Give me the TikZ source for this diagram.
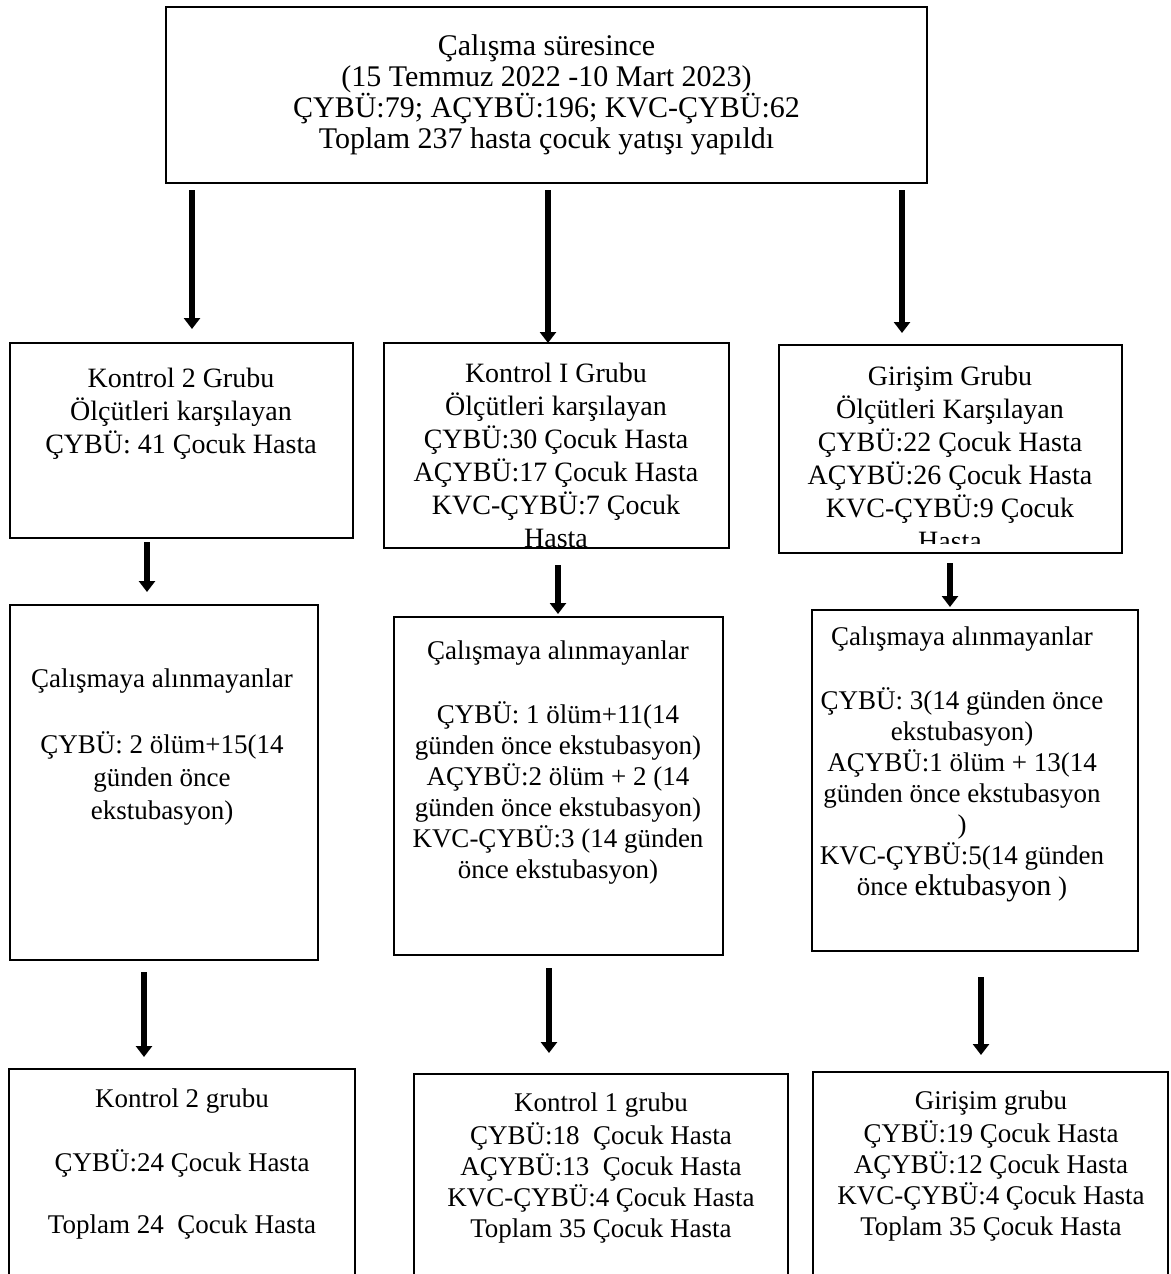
\documentclass[tikz,border=0pt]{standalone}
\usepackage{fontspec}
\setmainfont{Liberation Serif}
\usetikzlibrary{arrows.meta,fit}

\tikzset{
  box/.style={draw, line width=1.2pt, inner sep=0pt},
  txt/.style={align=center, inner sep=0pt, anchor=north},
  mid/.style={font=\fontsize{14}{16.5}\selectfont},
  low/.style={font=\fontsize{13.5}{15.5}\selectfont},
  flow/.style={line width=3pt, -{Triangle[width=8pt,length=5.5pt]}},
}

\begin{document}
\begin{tikzpicture}[x=0.5pt,y=-0.5pt]
\fill[white] (0,0) rectangle (1171,1274);
\useasboundingbox (0,0) rectangle (1171,1274);

% ---- boxes ----
\node[box, fit={(166,7) (927,183)}] (top) {};
\node[box, fit={(10,343) (353,538)}] (k2) {};
\node[box, fit={(384,343) (729,548)}] (k1) {};
\node[box, fit={(779,345) (1122,553)}] (gi) {};
\node[box, fit={(10,605) (318,960)}] (x2) {};
\node[box, fit={(394,617) (723,955)}] (x1) {};
\node[box, fit={(812,610) (1138,951)}] (xg) {};
\node[box, fit={(9,1069) (355,1300)}] (s2) {};
\node[box, fit={(414,1074) (788,1300)}] (s1) {};
\node[box, fit={(813,1072) (1168,1300)}] (sg) {};

% ---- texts ----
\node[align=center, inner sep=0pt, font=\fontsize{15}{15.5}\selectfont] (top-t) at (top.center)
  {Çalışma süresince\\ (15 Temmuz 2022 -10 Mart 2023)\\ ÇYBÜ:79; AÇYBÜ:196; KVC-ÇYBÜ:62\\ Toplam 237 hasta çocuk yatışı yapıldı};

\node[txt, mid] (k2-t) at (181,364)
  {\strut Kontrol 2 Grubu\\ Ölçütleri karşılayan\\ ÇYBÜ: 41 Çocuk Hasta};

\begin{scope}
  \clip (384,343) rectangle (729,546);
  \node[txt, mid] (k1-t) at (556,359)
    {\strut Kontrol I Grubu\\ Ölçütleri karşılayan\\ ÇYBÜ:30 Çocuk Hasta\\ AÇYBÜ:17 Çocuk Hasta\\ KVC-ÇYBÜ:7 Çocuk\\ Hasta};
\end{scope}

\begin{scope}
  \clip (779,345) rectangle (1122,543);
  \node[txt, mid] (gi-t) at (950,362)
    {\strut Girişim Grubu\\ Ölçütleri Karşılayan\\ ÇYBÜ:22 Çocuk Hasta\\ AÇYBÜ:26 Çocuk Hasta\\ KVC-ÇYBÜ:9 Çocuk\\ Hasta};
\end{scope}

\node[txt, font=\fontsize{13.5}{16.5}\selectfont] (x2-t) at (162,664)
  {\strut Çalışmaya alınmayanlar\\[16.5pt] ÇYBÜ: 2 ölüm+15(14\\ günden önce\\ ekstubasyon)};

\node[txt, low] (x1-t) at (558,637)
  {\strut Çalışmaya alınmayanlar\\[15.5pt] ÇYBÜ: 1 ölüm+11(14\\ günden önce ekstubasyon)\\ AÇYBÜ:2 ölüm + 2 (14\\ günden önce ekstubasyon)\\ KVC-ÇYBÜ:3 (14 günden\\ önce ekstubasyon)};

\node[txt, low] (xg-t) at (962,623)
  {\strut Çalışmaya alınmayanlar\\[15.5pt] ÇYBÜ: 3(14 günden önce\\ ekstubasyon)\\ AÇYBÜ:1 ölüm + 13(14\\ günden önce ekstubasyon\\ )\\ KVC-ÇYBÜ:5(14 günden\\ önce {\fontsize{15}{15.5}\selectfont ektubasyon} )};

\node[txt, low] (s2-t) at (182,1085)
  {\strut Kontrol 2 grubu\\[15.5pt] ÇYBÜ:24 Çocuk Hasta\\[15.5pt] Toplam 24\ \ Çocuk Hasta};

\node[txt, low] (s1-t) at (601,1089)
  {\strut Kontrol 1 grubu\\ ÇYBÜ:18\ \ Çocuk Hasta\\ AÇYBÜ:13\ \ Çocuk Hasta\\ KVC-ÇYBÜ:4 Çocuk Hasta\\ Toplam 35 Çocuk Hasta};

\node[txt, low] (sg-t) at (991,1087)
  {\strut Girişim grubu\\ ÇYBÜ:19 Çocuk Hasta\\ AÇYBÜ:12 Çocuk Hasta\\ KVC-ÇYBÜ:4 Çocuk Hasta\\ Toplam 35 Çocuk Hasta};

% ---- arrow ends ----
\coordinate (a1s) at (192,190);  \coordinate (a1e) at (192,329);
\coordinate (a2s) at (548,190);  \coordinate (a2e) at (548,343);
\coordinate (a3s) at (902,190);  \coordinate (a3e) at (902,333);
\coordinate (b1s) at (147,542);  \coordinate (b1e) at (147,592);
\coordinate (b2s) at (558,565);  \coordinate (b2e) at (558,614);
\coordinate (b3s) at (950,563);  \coordinate (b3e) at (950,607);
\coordinate (c1s) at (144,972);  \coordinate (c1e) at (144,1057);
\coordinate (c2s) at (549,968);  \coordinate (c2e) at (549,1053);
\coordinate (c3s) at (981,977);  \coordinate (c3e) at (981,1055);

\foreach \r in {a,b,c}
  \foreach \i in {1,2,3}
    \draw[flow] (\r\i s) -- (\r\i e);
\end{tikzpicture}
\end{document}
